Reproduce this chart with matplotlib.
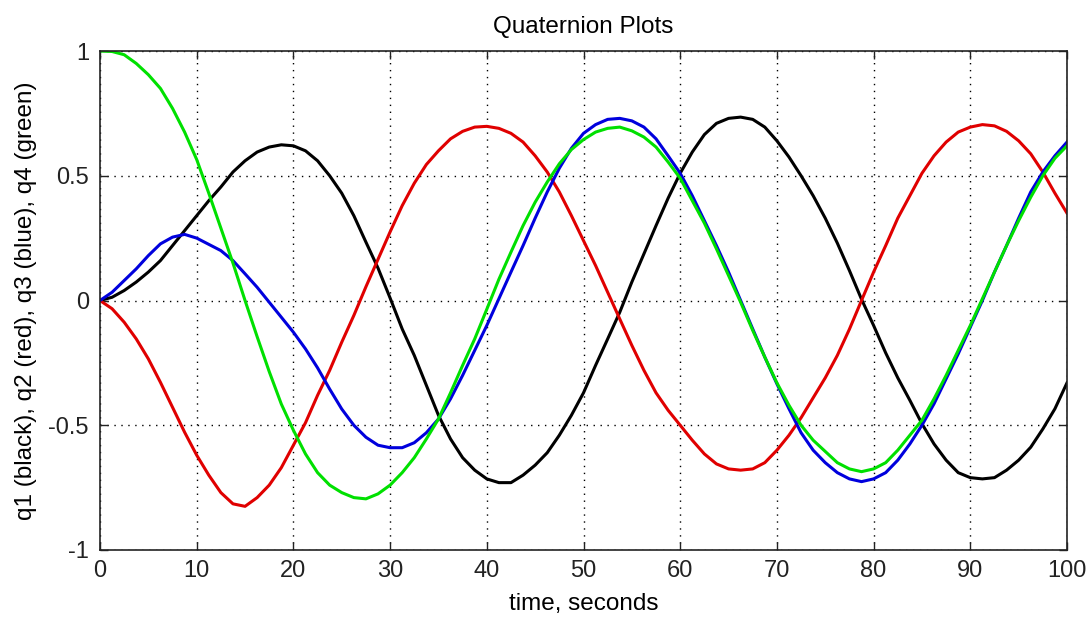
import matplotlib
matplotlib.use("Agg")
import matplotlib.pyplot as plt

# time samples every 1.25 s
t = [i * 1.25 for i in range(81)]

# quaternion components
q1 = [0, 0.013, 0.04, 0.074, 0.114, 0.16, 0.22, 0.28, 0.34, 0.40, 0.455, 0.515,
      0.56, 0.595, 0.615, 0.624, 0.62, 0.60, 0.56, 0.50, 0.43, 0.34, 0.234, 0.13,
      0.01, -0.114, -0.22, -0.34, -0.46, -0.555, -0.63, -0.68, -0.715, -0.73, -0.73,
      -0.70, -0.66, -0.61, -0.54, -0.46, -0.37, -0.26, -0.154, -0.047, 0.074, 0.187,
      0.30, 0.41, 0.51, 0.595, 0.665, 0.71, 0.73, 0.735, 0.726, 0.695, 0.64, 0.575,
      0.50, 0.42, 0.33, 0.23, 0.12, 0.005, -0.10, -0.21, -0.31, -0.40, -0.494,
      -0.575, -0.64, -0.69, -0.71, -0.715, -0.71, -0.68, -0.64, -0.588, -0.515,
      -0.434, -0.33]
q2 = [0, -0.033, -0.087, -0.154, -0.234, -0.328, -0.428, -0.528, -0.62, -0.70,
      -0.77, -0.815, -0.825, -0.79, -0.74, -0.67, -0.58, -0.49, -0.38, -0.28, -0.167,
      -0.06, 0.055, 0.165, 0.275, 0.38, 0.47, 0.545, 0.60, 0.648, 0.678, 0.695,
      0.698, 0.69, 0.67, 0.635, 0.58, 0.515, 0.435, 0.34, 0.24, 0.14, 0.033, -0.074,
      -0.18, -0.28, -0.37, -0.44, -0.50, -0.56, -0.615, -0.655, -0.675, -0.68,
      -0.675, -0.65, -0.60, -0.54, -0.47, -0.39, -0.31, -0.22, -0.115, 0.0, 0.114,
      0.22, 0.33, 0.42, 0.51, 0.58, 0.635, 0.675, 0.695, 0.705, 0.70, 0.678, 0.64,
      0.588, 0.515, 0.43, 0.35]
q3 = [0, 0.033, 0.08, 0.127, 0.18, 0.227, 0.254, 0.265, 0.25, 0.225, 0.20, 0.16,
      0.107, 0.053, -0.007, -0.067, -0.127, -0.194, -0.27, -0.355, -0.435, -0.50,
      -0.548, -0.58, -0.59, -0.59, -0.57, -0.53, -0.475, -0.394, -0.30, -0.20, -0.10,
      0.007, 0.114, 0.22, 0.33, 0.435, 0.53, 0.61, 0.67, 0.705, 0.726, 0.73, 0.72,
      0.695, 0.648, 0.58, 0.51, 0.42, 0.32, 0.22, 0.114, 0.0, -0.114, -0.227,
      -0.334, -0.434, -0.53, -0.60, -0.65, -0.69, -0.715, -0.726, -0.715, -0.69,
      -0.64, -0.575, -0.50, -0.414, -0.314, -0.214, -0.107, 0.0, 0.114, 0.22, 0.33,
      0.435, 0.515, 0.58, 0.635]
q4 = [1.0, 0.998, 0.985, 0.95, 0.905, 0.85, 0.77, 0.675, 0.565, 0.43, 0.29, 0.15,
      0.0, -0.145, -0.285, -0.415, -0.52, -0.615, -0.69, -0.74, -0.77, -0.79,
      -0.795, -0.775, -0.74, -0.69, -0.63, -0.555, -0.475, -0.37, -0.26, -0.154,
      -0.035, 0.085, 0.194, 0.30, 0.394, 0.475, 0.548, 0.605, 0.645, 0.675, 0.69,
      0.695, 0.68, 0.655, 0.615, 0.555, 0.49, 0.40, 0.31, 0.207, 0.10, -0.007,
      -0.12, -0.227, -0.33, -0.42, -0.50, -0.56, -0.605, -0.65, -0.675, -0.686,
      -0.675, -0.65, -0.60, -0.54, -0.48, -0.394, -0.30, -0.20, -0.10, 0.007, 0.114,
      0.22, 0.32, 0.414, 0.50, 0.57, 0.62]

plt.rcParams['font.family'] = ['Liberation Sans', 'DejaVu Sans']

fig = plt.figure(figsize=(10.91, 6.20), dpi=100)
ax = fig.add_axes([100 / 1091, 1 - 550 / 620, 967 / 1091, 499 / 620])

ax.plot(t, q1, color="black", lw=2.2)
ax.plot(t, q2, color="#e00000", lw=2.2)
ax.plot(t, q3, color="#0000dd", lw=2.2)
ax.plot(t, q4, color="#00e000", lw=2.2)

ax.set_xlim(0, 100)
ax.set_ylim(-1, 1)
ax.set_xticks(range(0, 101, 10))
ax.set_yticks([-1, -0.5, 0, 0.5, 1])
ax.set_yticklabels(["-1", "-0.5", "0", "0.5", "1"])
ax.grid(True, color="black", linestyle=(0, (1, 4)), linewidth=1)
ax.tick_params(direction="in", top=True, right=True, length=6, width=1,
               labelsize=17, colors="#222222")
ax.tick_params(axis="x", pad=7)
ax.tick_params(axis="y", pad=8)
for s in ax.spines.values():
    s.set_linewidth(1.2)
    s.set_color("#222222")

ax.set_title("Quaternion Plots", fontsize=17.5, pad=13)
ax.set_xlabel("time, seconds", fontsize=17.5, labelpad=8)
ax.set_ylabel("q1 (black), q2 (red), q3 (blue), q4 (green)", fontsize=17.5, labelpad=8)

fig.savefig("out.png", dpi=100)
